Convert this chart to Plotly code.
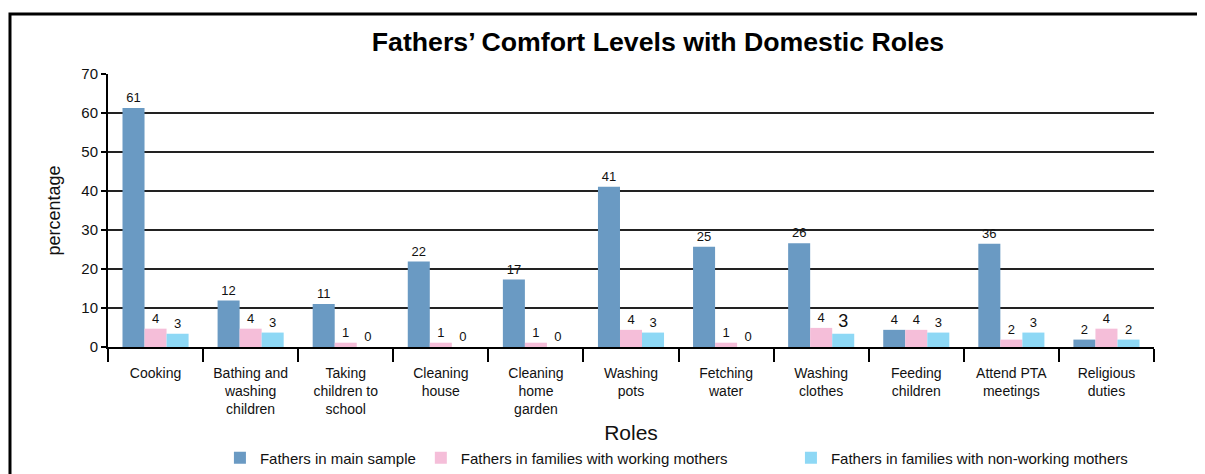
import plotly.graph_objects as go

categories = ["Cooking", "Bathing and<br>washing<br>children", "Taking<br>children to<br>school",
              "Cleaning<br>house", "Cleaning<br>home<br>garden", "Washing<br>pots",
              "Fetching<br>water", "Washing<br>clothes", "Feeding<br>children",
              "Attend PTA<br>meetings", "Religious<br>duties"]

series_names = ["Fathers in main sample",
                "Fathers in families with working mothers" + "\u00a0" * 14,
                "Fathers in families with non-working mothers"]

# bar heights as drawn in the picture
main_sample = [61.3, 11.9, 11.0, 21.9, 17.3, 41.1, 25.7, 26.6, 4.4, 26.5, 1.9]
working_mothers = [4.7, 4.7, 1.1, 1.1, 1.1, 4.4, 1.1, 4.9, 4.4, 1.9, 4.7]
nonworking_mothers = [3.4, 3.7, 0, 0, 0, 3.7, 0, 3.4, 3.7, 3.7, 1.9]

# value labels as printed above the bars
main_labels = [61, 12, 11, 22, 17, 41, 25, 26, 4, 36, 2]
working_labels = [4, 4, 1, 1, 1, 4, 1, 4, 4, 2, 4]
nonworking_labels = [3, 3, 0, 0, 0, 3, 0, 3, 3, 3, 2]

y_ticks = [0, 10, 20, 30, 40, 50, 60, 70]

colors = ["#6A9AC3", "#F5BED9", "#8ED8F5"]
font_family = "Liberation Sans, Arial, Helvetica, sans-serif"

fig = go.Figure()
series = [(main_sample, main_labels), (working_mothers, working_labels),
          (nonworking_mothers, nonworking_labels)]
for i, (vals, labs) in enumerate(series):
    sizes = [13] * len(labs)
    if i == 2:
        sizes[7] = 18
    fig.add_trace(go.Bar(
        x=categories, y=vals, name=series_names[i],
        marker=dict(color=colors[i], line=dict(width=0)),
        text=[str(v) for v in labs], textposition="outside",
        textfont=dict(size=sizes, color="#111", family=font_family),
        constraintext="none", cliponaxis=False,
    ))

fig.update_layout(
    width=1197, height=466,
    margin=dict(l=100, r=51, t=66, b=127, autoexpand=False),
    paper_bgcolor="white", plot_bgcolor="white",
    barmode="group", bargap=0.305, bargroupgap=0,
    font=dict(family=font_family, color="#111"),
    title=dict(text="<b>Fathers’ Comfort Levels with Domestic Roles</b>",
               x=0.543, xanchor="center", y=0.927, yanchor="middle",
               font=dict(size=26.7, color="#000")),
    xaxis=dict(
        tickson="boundaries", ticks="outside", ticklen=13, tickwidth=2, tickcolor="#000",
        showline=True, linecolor="#000", linewidth=2, automargin=False,
        tickfont=dict(size=14), showgrid=False, ticklabelstandoff=12,
        title=dict(text="Roles", font=dict(size=21), standoff=9),
    ),
    yaxis=dict(
        range=[0, 70], tickvals=y_ticks, ticks="outside", ticklen=5, tickwidth=1.5,
        tickcolor="#000", showline=True, linecolor="#000", linewidth=2, automargin=False,
        showgrid=True, gridcolor="#222222", gridwidth=1.6, zeroline=False,
        tickfont=dict(size=15),
        title=dict(text="percentage", font=dict(size=18), standoff=16),
    ),
    legend=dict(orientation="h", x=0.107, xanchor="left", y=-0.4066, yanchor="middle",
                font=dict(size=15), bgcolor="rgba(0,0,0,0)", itemclick=False),
    shapes=[dict(type="rect", xref="paper", yref="paper",
                 x0=-0.0937, x1=1.2, y0=-0.7, y1=1.2198,
                 line=dict(color="#000", width=3), layer="below")],
)

fig.write_html("out.html")
